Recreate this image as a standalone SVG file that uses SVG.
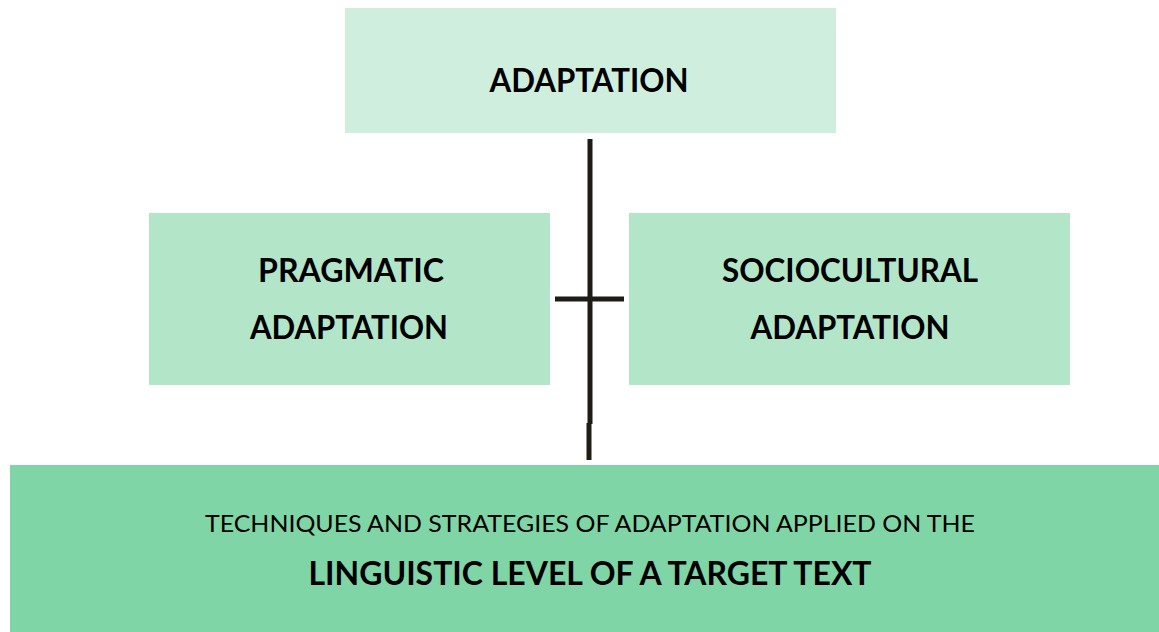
<svg xmlns="http://www.w3.org/2000/svg" width="1159" height="632" viewBox="0 0 1159 632">
<style>
.t{font-family:Lato,"Open Sans","Liberation Sans",sans-serif;fill:#000;text-anchor:middle}
.b{font-weight:bold;font-size:33px}
.r{font-weight:normal;font-size:24px}
.ln{stroke:#1e1c14;stroke-width:5;fill:none}
</style>
<rect width="1159" height="632" fill="#ffffff"/>
<g id="connectors">
<line class="ln" x1="590" y1="139" x2="590" y2="424"/>
<line class="ln" x1="589" y1="423" x2="589" y2="460"/>
<line class="ln" x1="555" y1="299" x2="624" y2="299"/>
</g>
<g id="adaptation">
<rect x="345" y="8" width="491" height="125" fill="#d0eedd"/>
<text class="t b" x="589" y="92" textLength="199" lengthAdjust="spacingAndGlyphs">ADAPTATION</text>
</g>
<g id="pragmatic">
<rect x="149" y="213" width="401" height="172" fill="#b3e6c9"/>
<text class="t b" x="351" y="282" textLength="186" lengthAdjust="spacingAndGlyphs">PRAGMATIC</text>
<text class="t b" x="349" y="339" textLength="198" lengthAdjust="spacingAndGlyphs">ADAPTATION</text>
</g>
<g id="sociocultural">
<rect x="629" y="213" width="441" height="172" fill="#b3e6c9"/>
<text class="t b" x="850" y="282" textLength="256" lengthAdjust="spacingAndGlyphs">SOCIOCULTURAL</text>
<text class="t b" x="850" y="339" textLength="199" lengthAdjust="spacingAndGlyphs">ADAPTATION</text>
</g>
<g id="techniques">
<rect x="10" y="465" width="1149" height="167" fill="#7fd5a6"/>
<text class="t r" x="590" y="532" textLength="770" lengthAdjust="spacingAndGlyphs">TECHNIQUES AND STRATEGIES OF ADAPTATION APPLIED ON THE</text>
<text class="t b" x="590" y="585" textLength="563" lengthAdjust="spacingAndGlyphs">LINGUISTIC LEVEL OF A TARGET TEXT</text>
</g>
</svg>
